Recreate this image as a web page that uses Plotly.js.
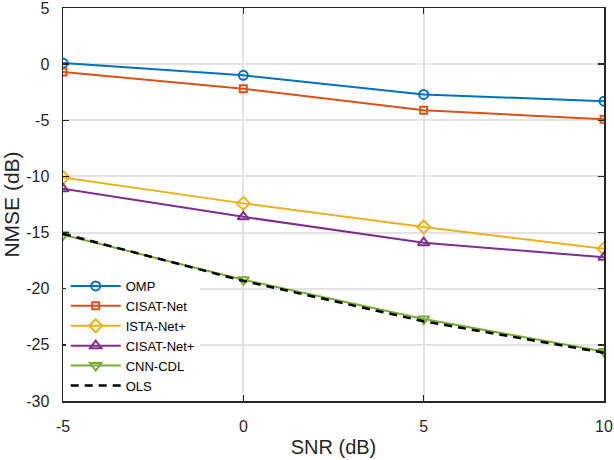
<!DOCTYPE html>
<html>
<head>
<meta charset="utf-8">
<script src="https://cdn.plot.ly/plotly-3.0.1.min.js"></script>
<style>
  html, body { margin: 0; padding: 0; background: #fff; }
  #chart { width: 614px; height: 460px; }
</style>
</head>
<body>
<div id="chart"></div>
<script>
const snr = [-5, 0, 5, 10];
const omp = [0.1, -1.0, -2.7, -3.3];
const cisatNet = [-0.7, -2.2, -4.1, -4.9];
const istaNetPlus = [-10.1, -12.4, -14.5, -16.45];
const cisatNetPlus = [-11.1, -13.6, -15.9, -17.2];
const cnnCdl = [-15.2, -19.2, -22.7, -25.6];
const ols = [-15.1, -19.3, -22.9, -25.7];

const xTicks = [-5, 0, 5, 10];
const xTickText = ['-5', '0', '5', '10'];
const yTicks = [-30, -25, -20, -15, -10, -5, 0, 5];
const yTickText = ['-30', '-25', '-20', '-15', '-10', '-5', '0', '5'];
const xRange = [-5, 10];
const yRange = [-30, 5];

const FONT = 'Liberation Sans, Arial, sans-serif';
const AXIS_COLOR = '#262626';

function series(name, y, color, symbol, size) {
    return {
        x: snr, y: y, name: name, type: 'scatter', mode: 'lines+markers',
        line: { color: color, width: 2 },
        marker: { symbol: symbol, size: size, color: color, line: { color: color, width: 2 } }
    };
}

const traces = [
    series('OMP', omp, '#0072BD', 'circle-open', 9),
    series('CISAT-Net', cisatNet, '#D95319', 'square-open', 7),
    series('ISTA-Net+', istaNetPlus, '#EDB120', 'diamond-open', 10),
    series('CISAT-Net+', cisatNetPlus, '#7E2F8E', 'triangle-up-open', 10),
    series('CNN-CDL', cnnCdl, '#77AC30', 'triangle-down-open', 10),
    { x: snr, y: ols, name: 'OLS', type: 'scatter', mode: 'lines',
      line: { color: '#000000', width: 2.5, dash: '8px,6px' } },
    // empty trace so the overlay axes (inside ticks) get drawn
    { x: [], y: [], xaxis: 'x2', yaxis: 'y2', showlegend: false, hoverinfo: 'skip' }
];

// primary axes: grid, labels, box line; the transparent outside ticks only push labels off the axis
const labelAxis = {
    showline: true, linecolor: AXIS_COLOR, linewidth: 1.5, mirror: true,
    ticks: 'outside', tickcolor: 'rgba(0,0,0,0)',
    showgrid: true, gridcolor: '#e3e3e3', gridwidth: 2,
    zeroline: false, fixedrange: true, ticklabeloverflow: 'allow',
    tickfont: { family: FONT, size: 16, color: AXIS_COLOR }
};

// overlay axes: just the inside tick marks on all four sides
const tickAxis = {
    showline: false, showgrid: false, zeroline: false, showticklabels: false,
    ticks: 'inside', ticklen: 6, tickwidth: 1.5, tickcolor: AXIS_COLOR,
    mirror: 'ticks', fixedrange: true
};

const layout = {
    width: 614, height: 460,
    paper_bgcolor: '#ffffff', plot_bgcolor: '#ffffff',
    font: { family: FONT, color: AXIS_COLOR },
    margin: { t: 8, b: 59, l: 63, r: 10 },
    showlegend: true,
    legend: {
        x: 0.005, y: 0.0, xanchor: 'left', yanchor: 'bottom',
        bgcolor: '#ffffff', borderwidth: 0,
        font: { family: FONT, size: 13, color: '#000' },
        itemwidth: 50, tracegroupgap: 0
    },
    xaxis: {
        ...labelAxis, ticklen: 10,
        range: xRange, tickvals: xTicks, ticktext: xTickText,
        title: { text: 'SNR (dB)', font: { size: 20, color: AXIS_COLOR }, standoff: 6 }
    },
    yaxis: {
        ...labelAxis, ticklen: 9,
        range: yRange, tickvals: yTicks, ticktext: yTickText,
        title: { text: 'NMSE (dB)', font: { size: 21, color: AXIS_COLOR }, standoff: 2 }
    },
    xaxis2: { ...tickAxis, overlaying: 'x', range: xRange, tickvals: xTicks },
    yaxis2: { ...tickAxis, overlaying: 'y', range: yRange, tickvals: yTicks }
};

Plotly.newPlot('chart', traces, layout, { displayModeBar: false, staticPlot: true });
</script>
</body>
</html>
